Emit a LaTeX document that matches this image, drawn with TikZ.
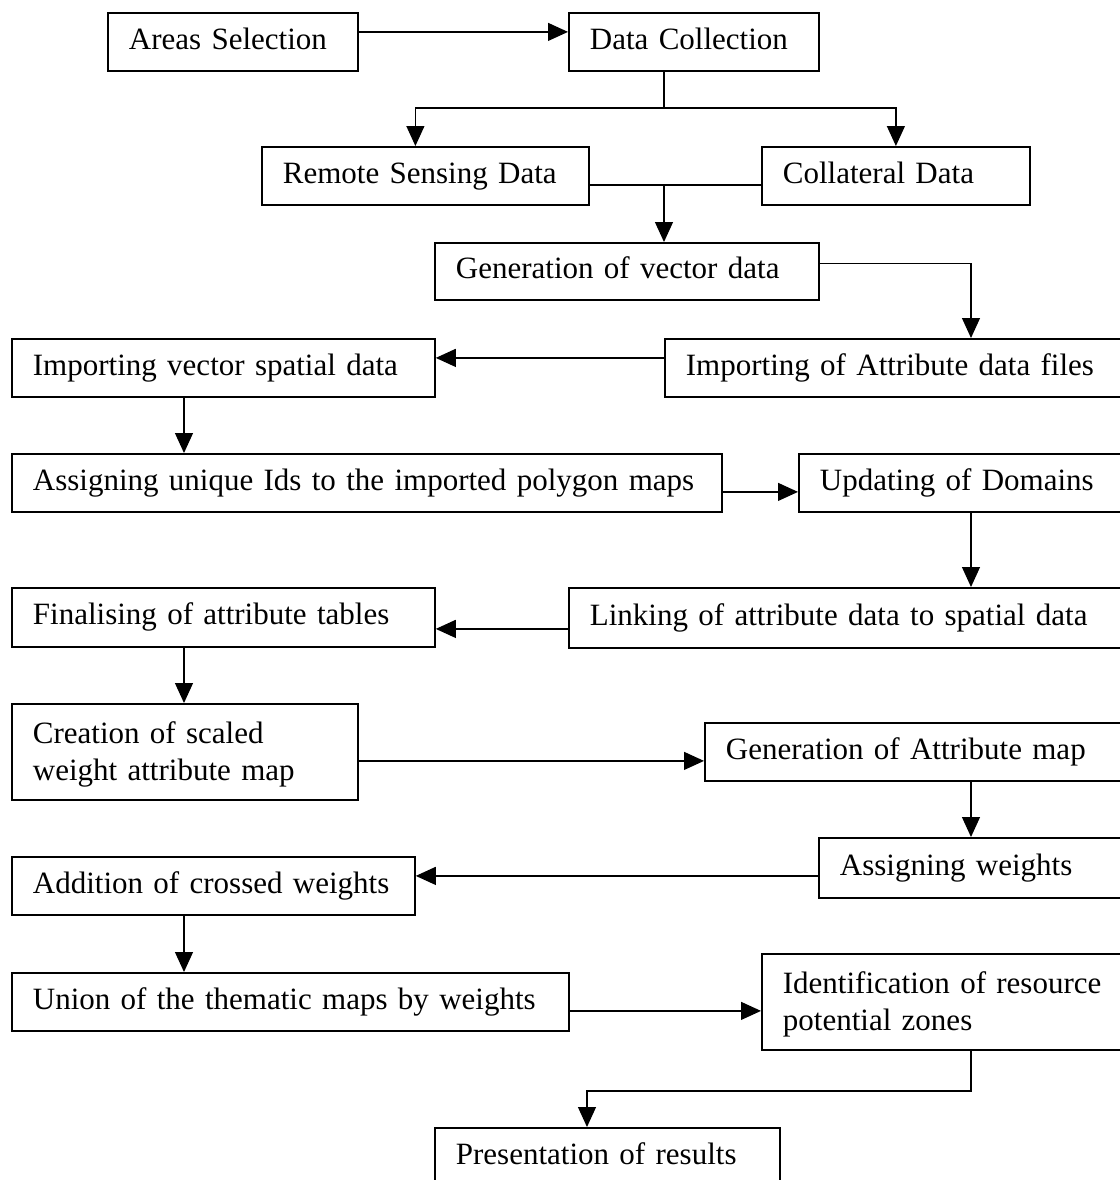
\documentclass[tikz,border=0pt]{standalone}
\usepackage{fontspec}
\setmainfont{Liberation Serif}
\usetikzlibrary{arrows.meta,calc}
\tikzset{
  gisbox/.style={draw,line width=0.9pt,anchor=north west,align=left,
                 inner xsep=0pt,inner ysep=0pt,
                 execute at begin node={\leftskip=10.5pt\strut},
                 font=\fontsize{15.5}{18.5}\selectfont},
  gisline/.style={line width=0.6pt},
  gisarrow/.style={gisline,-{Triangle[length=10pt,width=9pt]}}
}

\begin{document}
\begin{tikzpicture}[x=0.5pt,y=-0.5pt]
    \path[use as bounding box,clip] (0,0) rectangle (1120,1180);

    % boxes, top to bottom
    \node[gisbox,text width=125pt,minimum height=29pt] (areas) at (107,12) {Areas Selection};
    \node[gisbox,text width=125pt,minimum height=29pt] (data) at (568,12) {Data Collection};
    \node[gisbox,text width=163.5pt,minimum height=29pt] (remote) at (261,146) {Remote Sensing Data};
    \node[gisbox,text width=134pt,minimum height=29pt] (coll) at (761,146) {Collateral Data};
    \node[gisbox,text width=192pt,minimum height=28.5pt] (gen) at (434,242) {Generation of vector data};
    \node[gisbox,text width=238pt,minimum height=29pt] (attr) at (664,338) {Importing of Attribute data files};
    \node[gisbox,text width=211.5pt,minimum height=29pt] (vecsp) at (11,338) {Importing vector spatial data};
    \node[gisbox,text width=355pt,minimum height=29pt] (ids) at (11,453) {Assigning unique Ids to the imported polygon maps};
    \node[gisbox,text width=171pt,minimum height=29pt] (upd) at (798,453) {Updating of Domains};
    \node[gisbox,text width=286pt,minimum height=30pt] (link) at (568,587) {Linking of attribute data to spatial data};
    \node[gisbox,text width=211.5pt,minimum height=29.5pt] (fin) at (11,587) {Finalising of attribute tables};
    \node[gisbox,text width=173pt,minimum height=48pt] (create) at (11,703) {Creation of scaled\\weight attribute map};
    \node[gisbox,text width=218pt,minimum height=29pt] (genattr) at (704,722) {Generation of Attribute map};
    \node[gisbox,text width=161pt,minimum height=30pt] (wts) at (818,837) {Assigning weights};
    \node[gisbox,text width=201.5pt,minimum height=29pt] (add) at (11,856) {Addition of crossed weights};
    \node[gisbox,text width=278.5pt,minimum height=29pt] (union) at (11,972) {Union of the thematic maps by weights};
    \node[gisbox,text width=189.5pt,minimum height=48pt] (ident) at (761,953) {Identification of resource\\potential zones};
    \node[gisbox,text width=172.5pt,minimum height=29pt] (pres) at (434,1127) {Presentation of results};

    % junctions and columns
    \coordinate (split) at (664,108);
    \coordinate (rc) at (971,0);
    \coordinate (lc) at (184,0);
    \coordinate (turn) at (587,1091);

    % connectors
    \draw[gisarrow] ($(areas.east)+(0,-10)$) coordinate (t) -- (t -| data.west);
    \draw[gisline] (data.south -| split) -- (split);
    \draw[gisarrow] (split) -| ($(remote.north)+(-10,0)$);
    \draw[gisarrow] (split) -| (coll.north);
    \draw[gisline] ($(remote.east)+(0,9)$) coordinate (m) -- (m -| coll.west);
    \draw[gisarrow] (m -| split) -- (split |- gen.north);
    \draw[gisarrow] ($(gen.east)+(0,-8)$) -| (rc |- attr.north);
    \draw[gisarrow] ($(attr.west)+(0,-10)$) coordinate (t) -- (t -| vecsp.east);
    \draw[gisarrow] (lc |- vecsp.south) -- (lc |- ids.north);
    \draw[gisarrow] ($(ids.east)+(0,9)$) coordinate (t) -- (t -| upd.west);
    \draw[gisarrow] (rc |- upd.south) -- (rc |- link.north);
    \draw[gisarrow] ($(link.west)+(0,11)$) coordinate (t) -- (t -| fin.east);
    \draw[gisarrow] (lc |- fin.south) -- (lc |- create.north);
    \draw[gisarrow] ($(create.east)+(0,9)$) coordinate (t) -- (t -| genattr.west);
    \draw[gisarrow] (rc |- genattr.south) -- (rc |- wts.north);
    \draw[gisarrow] ($(wts.west)+(0,8)$) coordinate (t) -- (t -| add.east);
    \draw[gisarrow] (lc |- add.south) -- (lc |- union.north);
    \draw[gisarrow] ($(union.east)+(0,9)$) coordinate (t) -- (t -| ident.west);
    \draw[gisarrow] (rc |- ident.south) |- (turn) -- (turn |- pres.north);
\end{tikzpicture}
\end{document}
